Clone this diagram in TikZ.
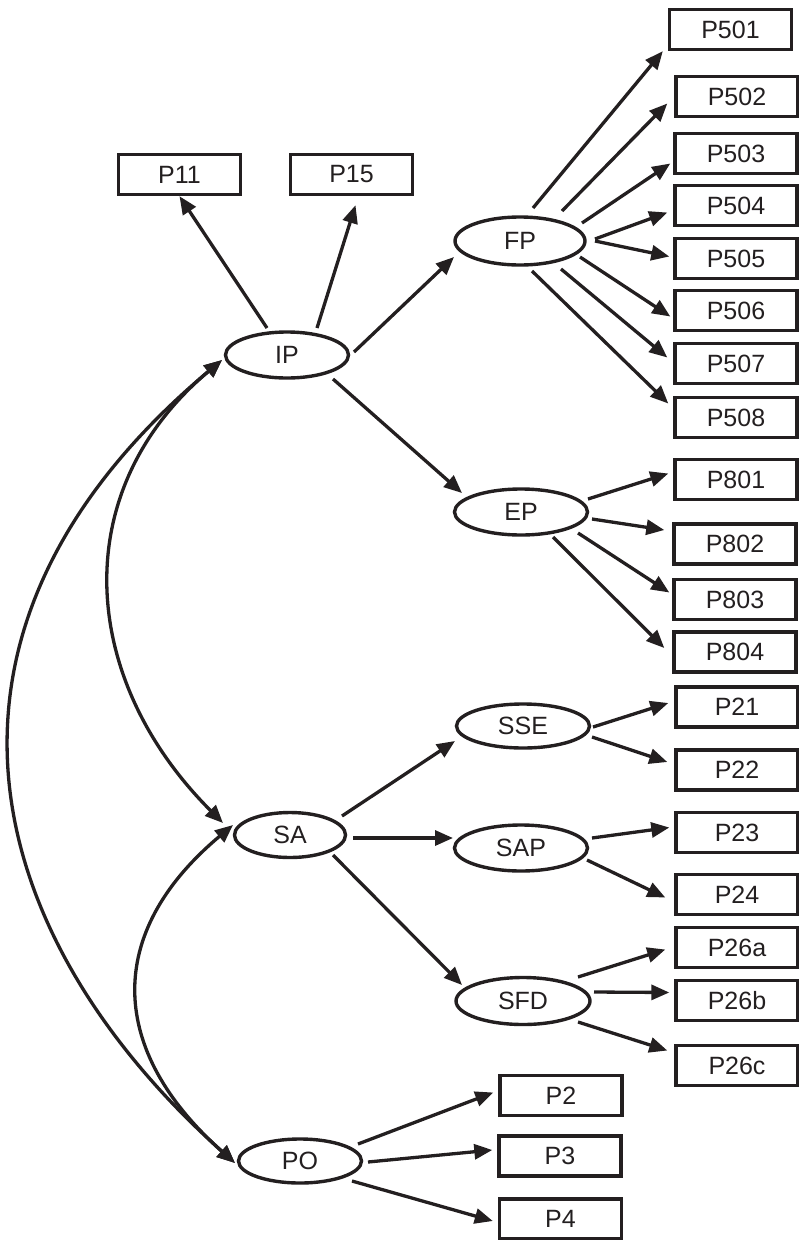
\documentclass[tikz,border=0pt]{standalone}
\usepackage{fontspec}
\setmainfont{Liberation Sans}
\usetikzlibrary{arrows.meta,shapes.geometric,calc}
\definecolor{ink}{RGB}{35,31,32}
\begin{document}
\begin{tikzpicture}[x=1pt,y=-1pt,color=ink,
  lbl/.style={font=\fontsize{25pt}{29pt}\selectfont, text=ink},
  box/.style={lbl, draw=ink, rectangle, line width=3.4pt, minimum width=122pt, minimum height=40pt, inner sep=0pt},
  ell/.style={lbl, draw=ink, ellipse, line width=3.4pt, inner sep=0pt},
  arr/.style={draw=ink, line width=3.3pt, -{Triangle[length=18pt,width=15pt]}},
  dbl/.style={draw=ink, line width=3.3pt, {Triangle[length=18pt,width=15pt]}-{Triangle[length=18pt,width=15pt]}}]
\useasboundingbox (0,0) rectangle (799,1240);
% latent variables
\node[ell, minimum width=123pt, minimum height=46pt] (IP)  at (287,355)  {IP};
\node[ell, minimum width=130pt, minimum height=48pt] (FP)  at (520,241)  {FP};
\node[ell, minimum width=133pt, minimum height=46pt] (EP)  at (521,512)  {EP};
\node[ell, minimum width=133pt, minimum height=44pt] (SSE) at (523,726)  {SSE};
\node[ell, minimum width=133pt, minimum height=46pt] (SAP) at (521,848)  {SAP};
\node[ell, minimum width=134pt, minimum height=47pt] (SFD) at (523,1001) {SFD};
\node[ell, minimum width=111pt, minimum height=45pt] (SA)  at (290,835)  {SA};
\node[ell, minimum width=123pt, minimum height=44pt] (PO)  at (300,1161) {PO};
% observed variables
\node[box] (P11)  at (179.5,174.5) {P11};
\node[box] (P15)  at (351.5,174.5) {P15};
\node[box] (P501) at (730.5,29.5)  {P501};
\node[box] (P502) at (737,96.5)    {P502};
\node[box] (P503) at (736,153.5)   {P503};
\node[box] (P504) at (736,205.5)   {P504};
\node[box] (P505) at (736,258.5)   {P505};
\node[box] (P506) at (736,310.5)   {P506};
\node[box] (P507) at (736,363.5)   {P507};
\node[box] (P508) at (736,417.5)   {P508};
\node[box] (P801) at (736,479.5)   {P801};
\node[box] (P802) at (735,544)     {P802};
\node[box] (P803) at (735,599.5)   {P803};
\node[box] (P804) at (735,652)     {P804};
\node[box] (P21)  at (737,707)     {P21};
\node[box] (P22)  at (737,770)     {P22};
\node[box] (P23)  at (737,832.5)   {P23};
\node[box] (P24)  at (737,894.5)   {P24};
\node[box] (P26a) at (737,947.5)   {P26a};
\node[box] (P26b) at (737,1000.5)  {P26b};
\node[box] (P26c) at (737,1065.5)  {P26c};
\node[box] (P2)   at (561,1095.5)  {P2};
\node[box] (P3)   at (560,1156)    {P3};
\node[box] (P4)   at (560.5,1219)  {P4};
% IP
\draw[arr] ($(IP)+(-20,-27)$) -- (P11.south);
\draw[arr] ($(IP)+(30,-27)$) -- ($(P15.south)+(4,9)$);
\draw[arr] ($(IP)+(67,-3)$) -- ($(FP)+(-66,16)$);
\draw[arr] ($(IP)+(46,24)$) -- ($(EP)+(-59,-19)$);
% FP
\draw[arr] ($(FP)+(13,-33)$) -- ($(P501.south west)+(-5,0)$);
\draw[arr] ($(FP)+(42,-30)$) -- ($(P502.west)+(-7,7)$);
\draw[arr] ($(FP)+(62,-18)$) -- ($(P503.west)+(-3,10)$);
\draw[arr] ($(FP)+(75,-2)$) -- ($(P504.west)+(-6,7)$);
\draw[arr] ($(FP)+(75,0)$) -- ($(P505.west)+(-4,-2)$);
\draw[arr] ($(FP)+(60,16)$) -- ($(P506.west)+(-3,6)$);
\draw[arr] ($(FP)+(41,28)$) -- ($(P507.west)+(-6,-6)$);
\draw[arr] ($(FP)+(12,30)$) -- ($(P508.west)+(-5,-14)$);
% EP
\draw[arr] ($(EP)+(67,-13)$) -- ($(P801.west)+(-5,-6)$);
\draw[arr] ($(EP)+(71,7)$) -- ($(P802.west)+(-8,-14)$);
\draw[arr] ($(EP)+(57,21)$) -- ($(P803.west)+(-3,-7)$);
\draw[arr] ($(EP)+(32,25)$) -- ($(P804.west)+(-8,-4)$);
% SSE
\draw[arr] ($(SSE)+(70,1)$) -- ($(P21.west)+(-6,-4)$);
\draw[arr] ($(SSE)+(69,11)$) -- ($(P22.west)+(-7,-8)$);
% SA
\draw[arr] ($(SA)+(52,-19)$) -- ($(SSE)+(-68,15)$);
\draw[arr] ($(SA)+(63,3)$) -- ($(SAP)+(-68,-10)$);
\draw[arr] ($(SA)+(43,20)$) -- ($(SFD)+(-61,-16)$);
% SAP
\draw[arr] ($(SAP)+(71,-10)$) -- ($(P23.west)+(-5,-5)$);
\draw[arr] ($(SAP)+(66,12)$) -- ($(P24.west)+(-9,3)$);
% SFD
\draw[arr] ($(SFD)+(55,-24)$) -- ($(P26a.west)+(-9,2)$);
\draw[arr] ($(SFD)+(71,-9)$) -- ($(P26b.west)+(-5,-8)$);
\draw[arr] ($(SFD)+(55,21)$) -- ($(P26c.west)+(-7,-15)$);
% PO
\draw[arr] ($(PO)+(58,-17)$) -- ($(P2.west)+(-5,-3)$);
\draw[arr] ($(PO)+(68,1)$) -- ($(P3.west)+(-5,-6)$);
\draw[arr] ($(PO)+(52,20)$) -- ($(P4.west)+(-5,2)$);
% correlations
\draw[dbl] ($(IP)+(-65,5)$) .. controls ($(IP)+(-387,275)$) and ($(PO)+(-321,-227)$) .. ($(PO)+(-65,2)$);
\draw[dbl] ($(IP)+(-65,5)$) .. controls ($(IP)+(-221,136)$) and ($(SA)+(-211,-156)$) .. ($(SA)+(-67,-12)$);
\draw[dbl] ($(SA)+(-57,-10)$) .. controls ($(SA)+(-187,99)$) and ($(PO)+(-191,-110)$) .. ($(PO)+(-65,2)$);
\end{tikzpicture}
\end{document}
